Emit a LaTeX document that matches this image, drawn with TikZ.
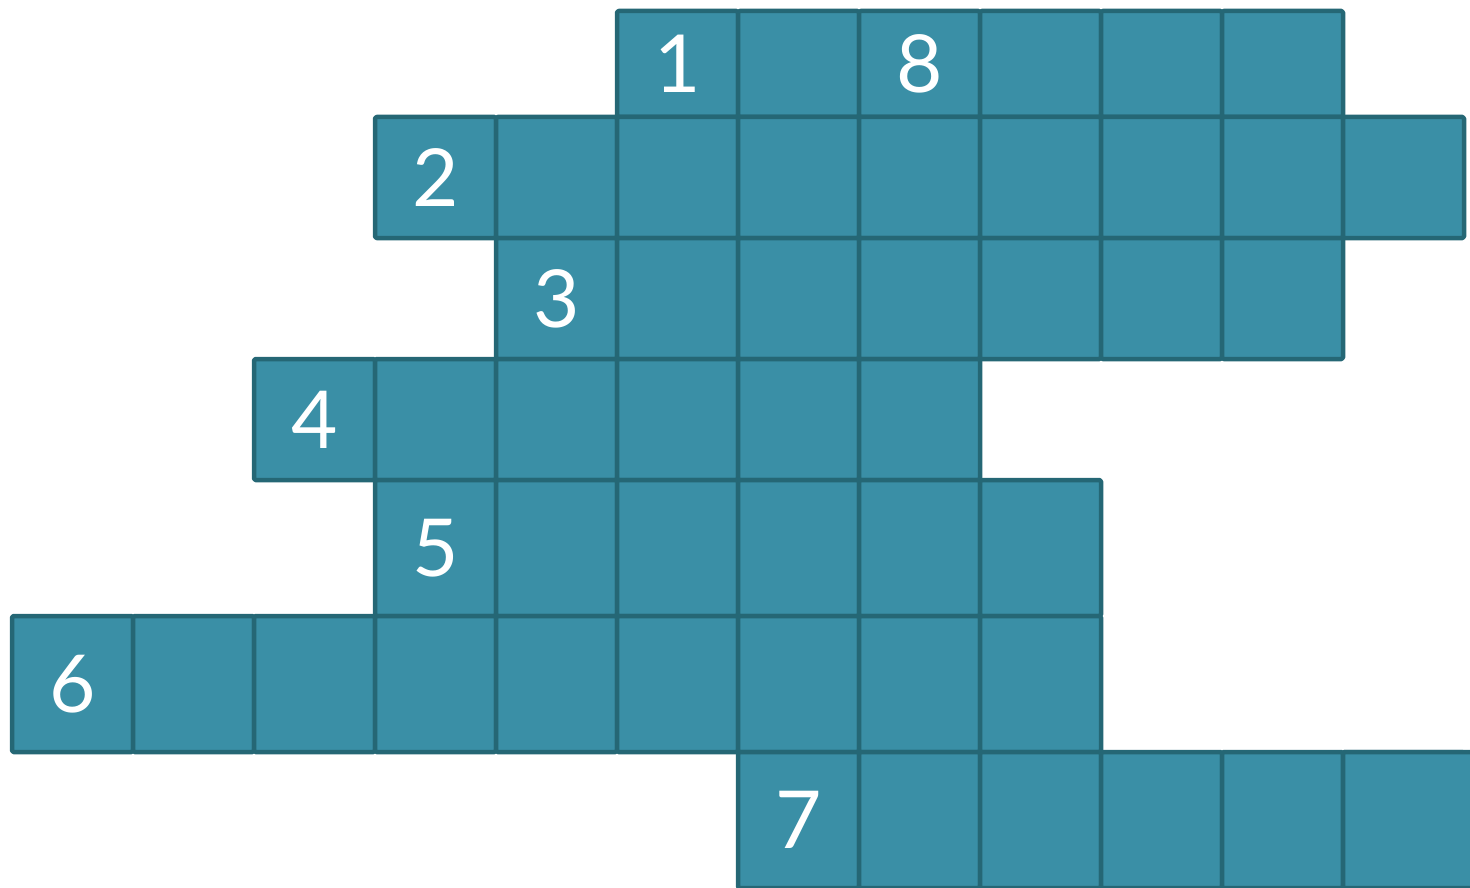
\documentclass[tikz,border=0pt]{standalone}
\usepackage{fontspec}
\setmainfont{Lato}
\definecolor{cellfill}{HTML}{3A8FA6}
\definecolor{celledge}{HTML}{256775}
\tikzset{
  cell/.style={draw=celledge, fill=cellfill, line width=4.5pt, line join=round, rounded corners=1.5pt, inner sep=0pt, outer sep=0pt},
  num/.style={text=white, font=\fontsize{80}{80}\selectfont, inner sep=0pt}
}
\begin{document}
\begin{tikzpicture}[x=1pt,y=-1pt]
\useasboundingbox (0,0) rectangle (1470,888);
\clip (0,0) rectangle (1470,888);
% row spec: name/top/height/first/last
\foreach \r/\t/\h/\a/\b in {a/11/106/5/10, b/117/121/3/11, c/238/121/4/10, d/359/121/2/7, e/480/136/3/8, f/616/136/0/8, g/752/136/6/11}{
  \foreach \i in {\a,...,\b}{
    \node[cell, minimum width=121pt, minimum height=\h pt] (\r\i) at ({12+121*\i+60.5},{\t+\h/2}) {};
  }
}
% last cell of bottom row runs past the edge
\node[cell, minimum width=140pt, minimum height=136pt, anchor=north west] (g11x) at (g11.north west) {};
\node[num] (n1) at (a5.center) {1};
\node[num] (n8) at (a7.center) {8};
\node[num] (n2) at (b3.center) {2};
\node[num] (n3) at (c4.center) {3};
\node[num] (n4) at (d2.center) {4};
\node[num] (n5) at (e3.center) {5};
\node[num] (n6) at (f0.center) {6};
\node[num] (n7) at (g6.center) {7};
\end{tikzpicture}
\end{document}
